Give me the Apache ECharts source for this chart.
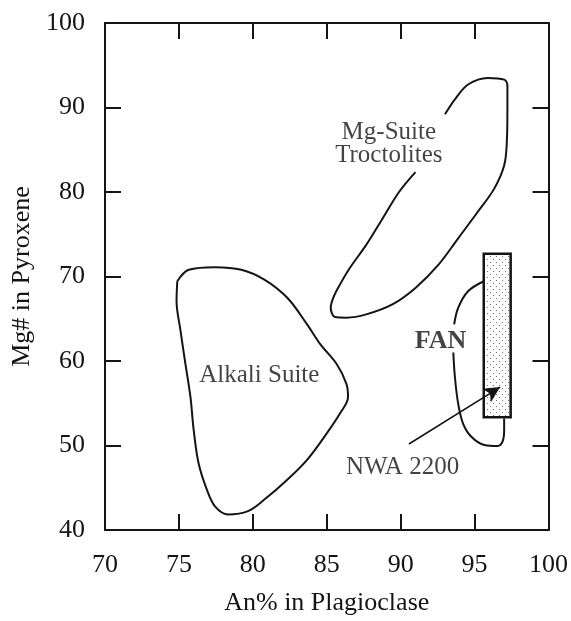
<!DOCTYPE html>
<html>
<head>
<meta charset="utf-8">
<script src="https://cdn.jsdelivr.net/npm/echarts@6/dist/echarts.min.js"></script>
<style>
html,body{margin:0;padding:0;background:#fff;}
#c{width:571px;height:621px;}
</style>
</head>
<body>
<div id="c"></div>
<script>
// Axis ticks
var xTicks = [70, 75, 80, 85, 90, 95, 100];
var yTicks = [40, 50, 60, 70, 80, 90, 100];

// Alkali Suite outline [An%, Mg#]
var alkaliSuite = [
  [74.89,69.44],[75.67,70.8],[77.44,71.1],[79.22,70.8],[80.78,69.63],[82.33,67.48],
  [83.67,64.34],[84.56,62.0],[85.67,59.65],[86.33,57.3],[86.44,55.74],[85.89,53.78],
  [85.0,51.43],[83.67,48.3],[82.33,45.95],[80.78,43.6],[79.67,42.23],[78.33,41.84],
  [77.44,42.8],[76.89,44.78],[76.33,47.9],[76.0,51.82],[75.78,55.74],[75.44,59.65],
  [75.11,63.57],[74.84,67.1],[74.89,69.44]
];

// Mg-Suite Troctolites outline (open where the label sits)
var mgSuite = [
  [91.0,82.35],[89.89,80.0],[88.78,76.87],[87.67,73.74],[86.56,71.0],[85.89,69.04],
  [85.44,67.48],[85.27,66.3],[85.56,65.2],[86.33,65.13],[87.67,65.52],[89.44,66.7],
  [91.0,68.65],[92.56,71.4],[93.89,74.52],[95.22,77.66],[96.33,80.4],[97.0,83.13],
  [97.18,85.87],[97.22,89.79],[97.22,92.5],[97.0,93.3],[95.89,93.5],[94.56,92.72],
  [93.67,90.96],[93.0,89.2]
];

// FAN outline, upper and lower parts (broken by the label)
var fanUpper = [[95.62,69.44],[94.56,68.26],[93.89,66.3],[93.62,64.34]];
var fanLower = [[93.56,61.0],[93.67,58.08],[93.89,54.95],[94.22,52.6],[94.78,51.04],
  [95.67,50.06],[96.56,49.94],[96.89,50.45],[97.0,51.82],[97.0,53.2]];

// NWA 2200 range box [xMin, yMax, xMax, yMin]
var nwaBox = [[95.62, 72.7, 97.44, 53.35]];

// Arrow from label to box
var arrowFrom = [90.56, 50.18];
var arrowTo = [96.73, 56.91];

// Labels
var labels = [
  {value:[80.44,58.32], name:'Alkali Suite'},
  {value:[89.2,85.68], name:'Mg-Suite\nTroctolites'},
  {value:[92.7,62.31], name:'FAN', bold:true},
  {value:[86.3,47.4], name:'NWA 2200', left:true}
];

var FONT = '"Liberation Serif", "Times New Roman", serif';
var INK = '#141414';

// dotted pattern
var pc = document.createElement('canvas');
pc.width = 6; pc.height = 6;
var pctx = pc.getContext('2d');
pctx.fillStyle = '#fcfcfc';
pctx.fillRect(0,0,6,6);
pctx.fillStyle = '#777777';
pctx.fillRect(1,1,1,1);
pctx.fillRect(4,4,1,1);
var pattern = {image: pc, repeat: 'repeat'};

var chart = echarts.init(document.getElementById('c'), null, {renderer:'canvas'});

function axisCommon(){
  return {
    type:'value',
    axisLine:{show:true, onZero:false, lineStyle:{color:INK, width:2}},
    axisTick:{show:true, inside:true, length:16, lineStyle:{color:INK, width:2}},
    splitLine:{show:false}
  };
}

var xB = axisCommon();
Object.assign(xB, {min:70, max:100, interval:5, position:'bottom',
  axisLabel:{margin:22, fontFamily:FONT, fontSize:26, color:INK},
  name:'An% in Plagioclase', nameLocation:'middle', nameGap:60,
  nameTextStyle:{fontFamily:FONT, fontSize:26, color:INK}});
var xT = axisCommon();
Object.assign(xT, {min:70, max:100, interval:5, position:'top', axisLabel:{show:false}});
var yL = axisCommon();
Object.assign(yL, {min:40, max:100, interval:10, position:'left',
  axisLabel:{margin:20, fontFamily:FONT, fontSize:26, color:INK},
  name:'Mg# in Pyroxene', nameLocation:'middle', nameGap:62,
  nameTextStyle:{fontFamily:FONT, fontSize:26, color:INK}});
var yR = axisCommon();
Object.assign(yR, {min:40, max:100, interval:10, position:'right', axisLabel:{show:false}});

function outline(data){
  return {type:'line', data:data, smooth:0.35, symbol:'none', xAxisIndex:0, yAxisIndex:0,
    lineStyle:{color:INK, width:2}, silent:true, z:3};
}

chart.setOption({
  animation:false,
  backgroundColor:'#fff',
  grid:{left:105, right:16, top:23, bottom:87},
  xAxis:[xB, xT],
  yAxis:[yL, yR],
  series:[
    outline(alkaliSuite),
    outline(mgSuite),
    outline(fanUpper),
    outline(fanLower),
    {
      type:'custom', xAxisIndex:0, yAxisIndex:0, z:4,
      data:nwaBox,
      encode:{x:[0,2], y:[1,3]},
      renderItem:function(params, api){
        var p1 = api.coord([api.value(0), api.value(1)]);
        var p2 = api.coord([api.value(2), api.value(3)]);
        return {type:'rect', shape:{x:p1[0], y:p1[1], width:p2[0]-p1[0], height:p2[1]-p1[1]},
          style:{fill:pattern, stroke:INK, lineWidth:2.5}};
      }
    },
    {
      type:'line', data:[], xAxisIndex:0, yAxisIndex:0, z:5,
      markLine:{
        silent:true, symbol:['none','arrow'], symbolSize:[12,16], animation:false,
        label:{show:false},
        lineStyle:{color:INK, width:1.6, type:'solid'},
        data:[[{coord:arrowFrom},{coord:arrowTo}]]
      }
    },
    {
      type:'scatter', xAxisIndex:0, yAxisIndex:0, z:6, symbolSize:0, silent:true,
      data:labels.map(function(l){
        return {value:l.value, name:l.name, label:{
          show:true, formatter:'{b}',
          position: l.left ? 'right' : 'inside',
          distance:0,
          align: l.left ? 'left' : 'center',
          verticalAlign:'middle',
          fontFamily:FONT, fontSize: l.bold ? 26 : 25,
          fontWeight: l.bold ? 'bold' : 'normal',
          lineHeight:23, color:INK
        }};
      })
    }
  ]
});
</script>
</body>
</html>
